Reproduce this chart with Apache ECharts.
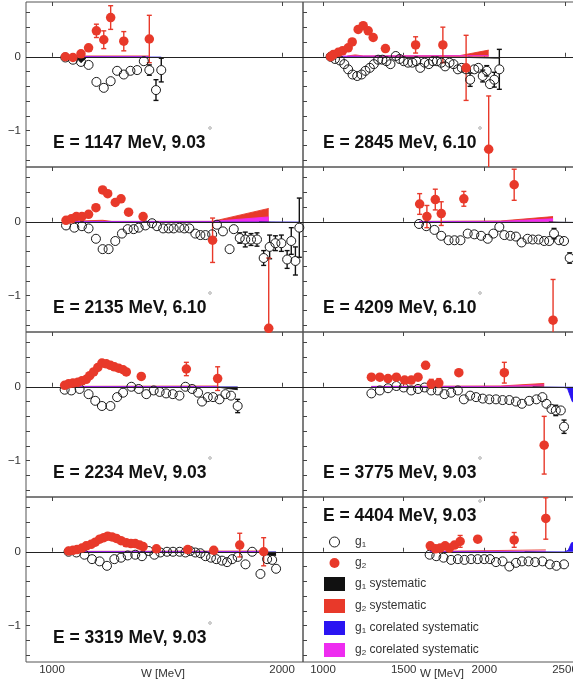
<!DOCTYPE html>
<html><head><meta charset="utf-8">
<script src="https://cdn.jsdelivr.net/npm/echarts@6/dist/echarts.min.js"></script>
<style>html,body{margin:0;padding:0;background:#fff}#c{width:573px;height:684px}</style>
</head><body><div id="c"></div>
<script>
// ---------------- DATA ----------------
// Axis ticks / labels
const xTicksLeft = [1000, 2000];
const xTicksRight = [1000, 1500, 2000, 2500];
const yTicks = [-1.4, -1.2, -1.0, -0.8, -0.6, -0.4, -0.2, 0, 0.2, 0.4, 0.6];
const yTickLabels = [-1, 0];

// E = 1147 MeV, 9.03
const W_g1_1147 = [1058,1091,1126,1159,1193,1225,1255,1283,1312,1341,1370,1399,1423,1452,1475];
const g1_1147   = [-0.01,-0.04,-0.07,-0.11,-0.34,-0.42,-0.33,-0.19,-0.24,-0.19,-0.18,-0.06,-0.18,-0.45,-0.18];
const g1err_1147= [0.01,0.01,0.01,0.02,0.02,0.02,0.02,0.02,0.02,0.02,0.03,0.04,0.07,0.14,0.16];
const W_g2_1147 = [1058,1091,1126,1159,1193,1225,1255,1312,1423];
const g2_1147   = [0.00,-0.01,0.04,0.12,0.35,0.23,0.53,0.21,0.24];
const g2err_1147= [0.01,0.01,0.02,0.03,0.09,0.12,0.16,0.13,0.32];
const g1sys_1147 = [[1058,-0.01],[1105,-0.01],[1126,-0.08],[1150,-0.01],[1475,-0.01]];
const g2sys_1147 = [[1058,0.01],[1423,0.01]];
const g1cor_1147 = [[1058,-0.005],[1475,-0.005]];
const g2cor_1147 = [[1058,0.004],[1423,0.004]];

// E = 2845 MeV, 6.10
const W_g1_2845 = [1047,1074,1105,1132,1156,1183,1212,1239,1263,1290,1315,1342,1368,1393,1418,1451,1475,1500,1527,1554,1578,1603,1630,1656,1681,1706,1733,1757,1784,1809,1836,1860,1887,1912,1938,1963,1990,2015,2035,2062,2093];
const g1_2845   = [0.00,-0.03,-0.05,-0.10,-0.17,-0.24,-0.26,-0.24,-0.19,-0.15,-0.10,-0.04,-0.04,-0.06,-0.10,0.01,-0.03,-0.06,-0.08,-0.08,-0.06,-0.15,-0.08,-0.10,-0.06,-0.06,-0.08,-0.13,-0.08,-0.10,-0.17,-0.15,-0.17,-0.31,-0.17,-0.15,-0.26,-0.19,-0.37,-0.31,-0.17];
const g1err_2845= [0.01,0.01,0.01,0.01,0.01,0.01,0.01,0.01,0.01,0.01,0.01,0.01,0.01,0.01,0.01,0.02,0.02,0.02,0.02,0.02,0.02,0.02,0.02,0.02,0.02,0.02,0.02,0.02,0.03,0.03,0.04,0.04,0.05,0.09,0.05,0.06,0.08,0.07,0.06,0.10,0.27];
const W_g2_2845 = [1047,1064,1095,1121,1156,1181,1218,1249,1280,1311,1387,1574,1743,1887,2027];
const g2_2845   = [0.00,0.03,0.06,0.08,0.12,0.20,0.37,0.42,0.35,0.26,0.11,0.16,0.16,-0.15,-1.25];
const g2err_2845= [0.01,0.01,0.01,0.01,0.01,0.02,0.02,0.02,0.02,0.02,0.03,0.11,0.24,0.44,0.72];
const g1sys_2845 = [[1900,-0.01],[2093,-0.02]];
const g2sys_2845 = [[1150,0.01],[1200,0.025],[1250,0.01],[1846,0.015],[2027,0.09]];
const g1cor_2845 = [[1047,-0.005],[2093,-0.01]];
const g2cor_2845 = [[1100,0.01],[2027,0.015]];

// E = 2135 MeV, 6.10
const W_g1_2135 = [1061,1097,1130,1159,1191,1220,1246,1275,1304,1329,1355,1377,1406,1435,1456,1483,1507,1529,1554,1575,1597,1623,1645,1667,1696,1717,1743,1772,1790,1816,1840,1865,1891,1920,1946,1971,1997,2022,2040,2058,2075];
const g1_2135   = [-0.05,-0.08,-0.06,-0.09,-0.23,-0.37,-0.37,-0.26,-0.16,-0.10,-0.10,-0.08,-0.05,-0.02,-0.06,-0.09,-0.09,-0.09,-0.08,-0.09,-0.09,-0.16,-0.18,-0.18,-0.17,-0.04,-0.13,-0.37,-0.10,-0.22,-0.24,-0.24,-0.24,-0.49,-0.34,-0.29,-0.29,-0.51,-0.26,-0.53,-0.08];
const g1err_2135= [0.01,0.01,0.01,0.01,0.01,0.01,0.01,0.01,0.01,0.01,0.01,0.01,0.01,0.01,0.01,0.01,0.01,0.01,0.02,0.02,0.02,0.03,0.03,0.04,0.04,0.06,0.05,0.06,0.06,0.07,0.10,0.08,0.09,0.10,0.16,0.10,0.11,0.12,0.18,0.19,0.40];
const W_g2_2135 = [1061,1084,1106,1130,1159,1191,1220,1242,1275,1300,1333,1396,1698,1942];
const g2_2135   = [0.02,0.04,0.07,0.07,0.10,0.19,0.43,0.38,0.26,0.31,0.13,0.07,-0.25,-1.44];
const g2err_2135= [0.01,0.01,0.01,0.01,0.02,0.02,0.02,0.02,0.02,0.02,0.03,0.03,0.30,0.95];
const g1sys_2135 = [[1900,-0.005],[2075,-0.01]];
const g2sys_2135 = [[1061,0.005],[1220,0.02],[1260,0.005],[1698,0.005],[1942,0.18]];
const g1cor_2135 = [[1061,-0.005],[2075,-0.005]];
const g2cor_2135 = [[1061,0.003],[1698,0.005],[1942,0.065]];

// E = 4209 MeV, 6.10
const W_g1_4209 = [1595,1640,1691,1733,1778,1815,1852,1897,1938,1980,2021,2056,2093,2124,2161,2196,2231,2268,2299,2336,2371,2402,2432,2463,2494,2529];
const g1_4209   = [-0.03,-0.06,-0.11,-0.19,-0.25,-0.25,-0.25,-0.16,-0.17,-0.19,-0.23,-0.16,-0.07,-0.18,-0.19,-0.20,-0.28,-0.23,-0.24,-0.24,-0.26,-0.26,-0.16,-0.25,-0.26,-0.49];
const g1err_4209= [0.01,0.01,0.01,0.01,0.01,0.01,0.01,0.01,0.01,0.01,0.01,0.01,0.02,0.02,0.02,0.02,0.02,0.02,0.02,0.04,0.02,0.03,0.07,0.03,0.03,0.07];
const W_g2_4209 = [1599,1644,1696,1733,1873,2185,2426];
const g2_4209   = [0.24,0.07,0.30,0.11,0.31,0.50,-1.33];
const g2err_4209= [0.14,0.15,0.14,0.16,0.10,0.21,0.55];
const g1sys_4209 = [[2400,-0.005],[2593,-0.01]];
const g2sys_4209 = [[1599,0.005],[2100,0.01],[2426,0.07]];
const g1cor_4209 = [[1595,-0.005],[2593,-0.01]];
const g2cor_4209 = [[1599,0.003],[2100,0.005],[2426,0.04]];

// E = 2234 MeV, 9.03
const W_g1_2234 = [1055,1084,1120,1159,1188,1217,1254,1283,1309,1345,1377,1410,1442,1468,1496,1525,1554,1580,1609,1635,1652,1677,1700,1728,1754,1778,1807];
const g1_2234   = [-0.04,-0.05,-0.03,-0.10,-0.19,-0.26,-0.26,-0.14,-0.08,0.00,-0.03,-0.10,-0.05,-0.07,-0.09,-0.10,-0.12,0.00,-0.03,-0.08,-0.20,-0.14,-0.14,-0.17,-0.10,-0.12,-0.26];
const g1err_2234= [0.01,0.01,0.01,0.01,0.01,0.01,0.01,0.01,0.01,0.01,0.01,0.01,0.01,0.01,0.01,0.01,0.01,0.01,0.01,0.01,0.01,0.02,0.02,0.02,0.02,0.03,0.09];
const W_g2_2234 = [1055,1072,1091,1112,1130,1149,1164,1181,1199,1217,1236,1254,1271,1290,1309,1323,1388,1584,1720];
const g2_2234   = [0.02,0.04,0.05,0.06,0.08,0.10,0.15,0.20,0.26,0.32,0.31,0.29,0.27,0.25,0.23,0.20,0.14,0.24,0.11];
const g2err_2234= [0.01,0.01,0.01,0.01,0.01,0.01,0.01,0.01,0.01,0.01,0.01,0.01,0.01,0.01,0.01,0.01,0.02,0.09,0.16];
const g1sys_2234 = [[1720,-0.005],[1780,-0.03],[1807,-0.04]];
const g2sys_2234 = [[1055,0.005],[1720,0.01]];
const g1cor_2234 = [[1055,-0.004],[1807,-0.004]];
const g2cor_2234 = [[1055,0.003],[1720,0.003]];

// E = 3775 MeV, 9.03
const W_g1_3775 = [1300,1352,1403,1455,1500,1547,1589,1630,1671,1712,1753,1794,1836,1873,1912,1949,1990,2031,2072,2113,2155,2196,2233,2278,2323,2360,2385,2416,2443,2474,2494];
const g1_3775   = [-0.09,-0.05,-0.02,0.01,-0.01,-0.05,-0.03,-0.01,-0.05,-0.05,-0.10,-0.08,-0.05,-0.17,-0.12,-0.14,-0.16,-0.17,-0.17,-0.18,-0.18,-0.20,-0.23,-0.19,-0.17,-0.14,-0.23,-0.30,-0.32,-0.32,-0.54];
const g1err_3775= [0.01,0.01,0.01,0.01,0.01,0.01,0.01,0.01,0.01,0.01,0.01,0.01,0.01,0.01,0.01,0.01,0.01,0.02,0.02,0.02,0.02,0.02,0.02,0.02,0.02,0.04,0.05,0.06,0.07,0.06,0.09];
const W_g2_3775 = [1300,1352,1403,1455,1506,1547,1589,1636,1671,1718,1842,2124,2371];
const g2_3775   = [0.13,0.13,0.11,0.13,0.09,0.09,0.13,0.29,0.04,0.05,0.19,0.19,-0.79];
const g2err_3775= [0.01,0.01,0.01,0.01,0.01,0.01,0.01,0.02,0.06,0.06,0.02,0.14,0.39];
const g1sys_3775 = [[2300,-0.005],[2494,-0.01]];
const g2sys_3775 = [[1300,0.005],[2100,0.01],[2371,0.045]];
const g1cor_3775 = [[1300,-0.005],[2494,-0.01],[2515,-0.02],[2545,-0.2],[2593,-0.25]];
const g2cor_3775 = [[1300,0.003],[2100,0.005],[2371,0.025]];

// E = 3319 MeV, 9.03
const W_g1_3319 = [1072,1106,1141,1174,1207,1239,1271,1300,1329,1362,1391,1420,1445,1471,1500,1526,1555,1580,1601,1623,1645,1667,1691,1714,1739,1761,1783,1807,1841,1870,1906,1935,1957,1974];
const g1_3319   = [0.00,-0.01,-0.04,-0.10,-0.13,-0.19,-0.10,-0.08,-0.05,-0.04,-0.06,0.01,-0.04,-0.01,0.00,0.00,0.00,-0.01,0.01,-0.01,-0.02,-0.06,-0.08,-0.10,-0.12,-0.14,-0.10,-0.07,-0.17,0.00,-0.30,-0.10,-0.11,-0.23];
const g1err_3319= [0.01,0.01,0.01,0.01,0.01,0.01,0.01,0.01,0.01,0.01,0.01,0.01,0.01,0.01,0.01,0.01,0.01,0.01,0.01,0.01,0.01,0.01,0.01,0.01,0.01,0.01,0.01,0.01,0.02,0.02,0.02,0.02,0.02,0.03];
const W_g2_3319 = [1072,1091,1109,1130,1149,1170,1188,1207,1225,1242,1261,1280,1300,1323,1343,1362,1381,1396,1454,1590,1703,1816,1920];
const g2_3319   = [0.01,0.02,0.03,0.05,0.08,0.10,0.13,0.17,0.19,0.21,0.20,0.18,0.15,0.12,0.11,0.11,0.09,0.07,0.04,0.03,0.02,0.09,0.00];
const g2err_3319= [0.01,0.01,0.01,0.01,0.01,0.01,0.01,0.01,0.01,0.01,0.01,0.01,0.01,0.01,0.01,0.01,0.01,0.01,0.02,0.02,0.02,0.16,0.19];
const g1sys_3319 = [[1920,-0.01],[1935,-0.04],[1974,-0.05]];
const g2sys_3319 = [[1072,0.005],[1920,0.01]];
const g1cor_3319 = [[1072,-0.004],[1974,-0.004]];
const g2cor_3319 = [[1072,0.003],[1920,0.003]];

// E = 4404 MeV, 9.03
const W_g1_4404 = [1661,1702,1747,1794,1836,1877,1918,1959,2000,2035,2072,2113,2155,2196,2233,2274,2315,2360,2406,2447,2494];
const g1_4404   = [-0.04,-0.06,-0.08,-0.11,-0.10,-0.11,-0.10,-0.10,-0.10,-0.10,-0.14,-0.13,-0.20,-0.15,-0.13,-0.13,-0.14,-0.13,-0.17,-0.19,-0.17];
const g1err_4404= [0.01,0.01,0.01,0.01,0.01,0.01,0.01,0.01,0.01,0.01,0.01,0.01,0.02,0.02,0.02,0.02,0.02,0.02,0.02,0.02,0.02];
const W_g2_4404 = [1665,1698,1726,1757,1784,1815,1850,1959,2185,2381];
const g2_4404   = [0.08,0.04,0.05,0.08,0.05,0.09,0.14,0.17,0.16,0.45];
const g2err_4404= [0.01,0.01,0.01,0.01,0.02,0.02,0.08,0.02,0.10,0.28];
const g1sys_4404 = [[2250,-0.005],[2494,-0.01]];
const g2sys_4404 = [[1665,0.005],[2381,0.025]];
const g1cor_4404 = [[1661,-0.004],[2494,-0.005],[2520,0.02],[2540,0.12],[2593,0.15]];
const g2cor_4404 = [[1665,0.003],[2381,0.008]];

// ---------------- LAYOUT / STYLE ----------------
const FONT = '"Liberation Sans", Arial, Helvetica, sans-serif';
const RED = '#e8392a', BLACK = '#111111', BLUE = '#2a14f2', MAGENTA = '#ee2cf0';
const Y_MIN = -1.49, Y_MAX = 0.74;
const ROW_TOPS = [2, 167, 332, 497];
const ROW_H = 165;
const G1_SIZE = 9, G2_SIZE = 9.5;
const COLS = [
  {left: 26, width: 277, min: 887, max: 2091, ticks: xTicksLeft, titleX: 53, degX: 210},
  {left: 303, width: 277, min: 876, max: 2593, ticks: xTicksRight, titleX: 323, degX: 480}
];
const PANELS = [
  {E:'1147', ang:'9.03', row:0, col:0, W1:W_g1_1147, g1:g1_1147, e1:g1err_1147, W2:W_g2_1147, g2:g2_1147, e2:g2err_1147, s1:g1sys_1147, s2:g2sys_1147, c1:g1cor_1147, c2:g2cor_1147},
  {E:'2845', ang:'6.10', row:0, col:1, W1:W_g1_2845, g1:g1_2845, e1:g1err_2845, W2:W_g2_2845, g2:g2_2845, e2:g2err_2845, s1:g1sys_2845, s2:g2sys_2845, c1:g1cor_2845, c2:g2cor_2845},
  {E:'2135', ang:'6.10', row:1, col:0, W1:W_g1_2135, g1:g1_2135, e1:g1err_2135, W2:W_g2_2135, g2:g2_2135, e2:g2err_2135, s1:g1sys_2135, s2:g2sys_2135, c1:g1cor_2135, c2:g2cor_2135},
  {E:'4209', ang:'6.10', row:1, col:1, W1:W_g1_4209, g1:g1_4209, e1:g1err_4209, W2:W_g2_4209, g2:g2_4209, e2:g2err_4209, s1:g1sys_4209, s2:g2sys_4209, c1:g1cor_4209, c2:g2cor_4209},
  {E:'2234', ang:'9.03', row:2, col:0, W1:W_g1_2234, g1:g1_2234, e1:g1err_2234, W2:W_g2_2234, g2:g2_2234, e2:g2err_2234, s1:g1sys_2234, s2:g2sys_2234, c1:g1cor_2234, c2:g2cor_2234},
  {E:'3775', ang:'9.03', row:2, col:1, W1:W_g1_3775, g1:g1_3775, e1:g1err_3775, W2:W_g2_3775, g2:g2_3775, e2:g2err_3775, s1:g1sys_3775, s2:g2sys_3775, c1:g1cor_3775, c2:g2cor_3775},
  {E:'3319', ang:'9.03', row:3, col:0, W1:W_g1_3319, g1:g1_3319, e1:g1err_3319, W2:W_g2_3319, g2:g2_3319, e2:g2err_3319, s1:g1sys_3319, s2:g2sys_3319, c1:g1cor_3319, c2:g2cor_3319},
  {E:'4404', ang:'9.03', row:3, col:1, W1:W_g1_4404, g1:g1_4404, e1:g1err_4404, W2:W_g2_4404, g2:g2_4404, e2:g2err_4404, s1:g1sys_4404, s2:g2sys_4404, c1:g1cor_4404, c2:g2cor_4404, titleBaseline: 522}
];

// error bars drawn only outside the marker (as in the original plot)
function errSeries(name, W, v, e, color, radius, xi, yi) {
  return {
    type: 'custom', name: name, xAxisIndex: xi, yAxisIndex: yi, clip: true, z: 3, silent: true,
    data: W.map((w, k) => [w, v[k], v[k] - e[k], v[k] + e[k]]),
    renderItem: function (params, api) {
      const x = api.value(0);
      const c = api.coord([x, api.value(1)]);
      const lo = api.coord([x, api.value(2)]);
      const hi = api.coord([x, api.value(3)]);
      const cap = 2.5;
      const st = {stroke: color, lineWidth: 1.4};
      const children = [];
      if (lo[1] - c[1] > radius) {
        children.push({type: 'line', shape: {x1: c[0], y1: c[1] + radius, x2: lo[0], y2: lo[1]}, style: st});
        children.push({type: 'line', shape: {x1: lo[0] - cap, y1: lo[1], x2: lo[0] + cap, y2: lo[1]}, style: st});
      }
      if (c[1] - hi[1] > radius) {
        children.push({type: 'line', shape: {x1: c[0], y1: c[1] - radius, x2: hi[0], y2: hi[1]}, style: st});
        children.push({type: 'line', shape: {x1: hi[0] - cap, y1: hi[1], x2: hi[0] + cap, y2: hi[1]}, style: st});
      }
      return {type: 'group', children: children};
    }
  };
}
function bandSeries(name, data, color, xi, yi) {
  return {
    type: 'line', name: name, xAxisIndex: xi, yAxisIndex: yi, data: data, symbol: 'none', z: 2, silent: true,
    color: color, itemStyle: {color: color, opacity: 1},
    lineStyle: {color: color, width: 0.9}, areaStyle: {color: color, opacity: 1}
  };
}

const grids = [], xAxes = [], yAxes = [], series = [], graphics = [];
PANELS.forEach((p, i) => {
  const c = COLS[p.col];
  const top = ROW_TOPS[p.row];
  grids.push({left: c.left, width: c.width, top: top, height: ROW_H, show: true,
    outerBoundsMode: 'none', containLabel: false,
    borderColor: '#555', borderWidth: 1, backgroundColor: 'transparent'});
  const xb = xAxes.length;
  xAxes.push({gridIndex: i, type: 'value', min: c.min, max: c.max, position: 'bottom',
    axisLine: {show: false}, splitLine: {show: false},
    axisTick: {show: true, inside: true, length: 4, customValues: c.ticks, lineStyle: {color: '#444', width: 1}},
    axisLabel: {show: p.row === 3, customValues: c.ticks, fontSize: 11.5, color: '#333', margin: 2, fontFamily: FONT,
      formatter: v => String(v)}});
  xAxes.push({gridIndex: i, type: 'value', min: c.min, max: c.max, position: 'top',
    axisLine: {show: false}, splitLine: {show: false},
    axisTick: {show: true, inside: true, length: 4, customValues: c.ticks, lineStyle: {color: '#444', width: 1}},
    axisLabel: {show: false}});
  yAxes.push({gridIndex: i, type: 'value', min: Y_MIN, max: Y_MAX,
    axisLine: {show: false}, splitLine: {show: false},
    axisTick: {show: true, inside: true, length: 4, customValues: yTicks, lineStyle: {color: '#444', width: 1}},
    axisLabel: {show: p.col === 0, customValues: yTickLabels, fontSize: 11.5, color: '#333', margin: 5, fontFamily: FONT,
      formatter: v => (v < 0 ? '\u2212' + Math.abs(v) : String(v))}});

  // systematic bands
  series.push(bandSeries('g2 systematic', p.s2, RED, xb, i));
  series.push(bandSeries('g2 corelated systematic', p.c2, MAGENTA, xb, i));
  series.push(bandSeries('g1 systematic', p.s1, BLACK, xb, i));
  series.push(bandSeries('g1 corelated systematic', p.c1, BLUE, xb, i));
  // zero line
  series.push({type: 'line', name: 'zero', xAxisIndex: xb, yAxisIndex: i, data: [], z: 2, silent: true,
    markLine: {silent: true, symbol: 'none', animation: false, label: {show: false},
      lineStyle: {color: '#222', width: 1, type: 'solid'}, data: [{yAxis: 0}]}});
  // error bars
  series.push(errSeries('g1 err', p.W1, p.g1, p.e1, '#111', G1_SIZE / 2, xb, i));
  series.push(errSeries('g2 err', p.W2, p.g2, p.e2, RED, G2_SIZE / 2 - 1, xb, i));
  // points
  series.push({type: 'scatter', name: 'g1', xAxisIndex: xb, yAxisIndex: i, z: 4, symbol: 'circle', symbolSize: G1_SIZE,
    data: p.W1.map((w, k) => [w, p.g1[k]]),
    itemStyle: {color: 'rgba(255,255,255,0)', borderColor: '#1a1a1a', borderWidth: 1, opacity: 1}});
  series.push({type: 'scatter', name: 'g2', xAxisIndex: xb, yAxisIndex: i, z: 5, symbol: 'circle', symbolSize: G2_SIZE,
    data: p.W2.map((w, k) => [w, p.g2[k]]),
    itemStyle: {color: RED, opacity: 1}});

  // title
  const base = p.titleBaseline || (top + 147);
  graphics.push({type: 'text', x: c.titleX, y: base - 6, z: 10,
    style: {text: 'E = ' + p.E + ' MeV, ' + p.ang, font: 'bold 17.5px ' + FONT, fill: '#111', verticalAlign: 'middle', align: 'left'}});
  graphics.push({type: 'circle', z: 10, shape: {cx: c.degX, cy: base - 21, r: 1.3},
    style: {fill: 'none', stroke: '#999', lineWidth: 0.8}});
});
// axis names
graphics.push({type: 'text', x: 163, y: 674, z: 10, style: {text: 'W [MeV]', font: '11.5px ' + FONT, fill: '#333', align: 'center', verticalAlign: 'middle'}});
graphics.push({type: 'text', x: 442, y: 674, z: 10, style: {text: 'W [MeV]', font: '11.5px ' + FONT, fill: '#333', align: 'center', verticalAlign: 'middle'}});

const legendText = {fontSize: 12, color: '#333', fontFamily: FONT, lineHeight: 14, padding: [0, 0, 0, 5],
  rich: {s: {fontSize: 8, lineHeight: 6, verticalAlign: 'bottom', color: '#333', fontFamily: FONT}}};
const legendFmt = name => name.replace(/^g([12])/, 'g{s|$1}');

const option = {
  animation: false,
  backgroundColor: '#fff',
  grid: grids, xAxis: xAxes, yAxis: yAxes, series: series,
  legend: [
    {left: 329, top: 535, orient: 'vertical', padding: 0, itemGap: 7, itemWidth: 21, itemHeight: 10,
      selectedMode: false,
      data: [
        {name: 'g1', icon: 'circle', itemStyle: {color: 'rgba(255,255,255,0)', borderColor: '#1a1a1a', borderWidth: 1}},
        {name: 'g2', icon: 'circle', itemStyle: {color: RED}}
      ],
      textStyle: legendText, formatter: legendFmt},
    {left: 324, top: 577, orient: 'vertical', padding: 0, itemGap: 8, itemWidth: 21, itemHeight: 14,
      selectedMode: false, icon: 'rect',
      data: ['g1 systematic', 'g2 systematic', 'g1 corelated systematic', 'g2 corelated systematic'],
      textStyle: legendText, formatter: legendFmt}
  ],
  graphic: graphics
};
const chart = echarts.init(document.getElementById('c'), null, {renderer: 'canvas'});
chart.setOption(option);
</script>
</body></html>
